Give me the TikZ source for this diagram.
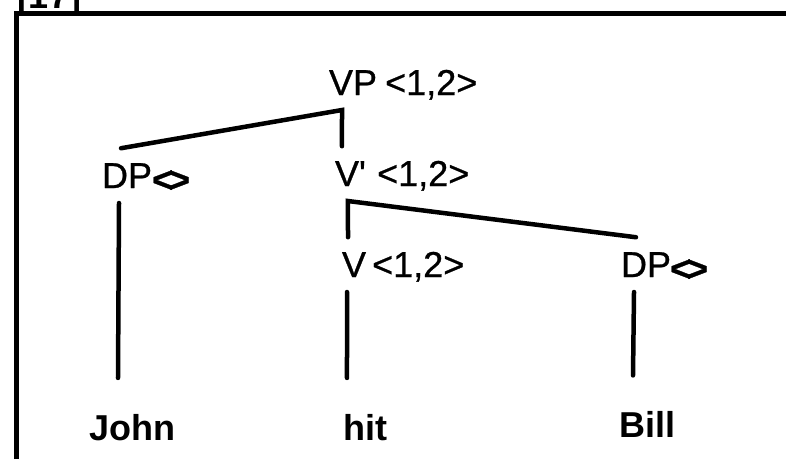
\documentclass[tikz,border=0pt]{standalone}
\usepackage{fontspec}
\setmainfont{Liberation Sans}
\newfontfamily\labelfont[FakeBold=0.8]{Liberation Sans}
\begin{document}
\begin{tikzpicture}[x=1pt,y=-1pt,
  cat/.style={font=\labelfont\fontsize{36}{40}\selectfont, inner sep=0pt,
    outer xsep=0pt, outer ysep=15pt, anchor=base west},
  feat/.style={font=\labelfont\fontsize{36}{40}\selectfont, inner sep=0pt, anchor=base west},
  word/.style={font=\bfseries\fontsize{36}{40}\selectfont, inner sep=0pt,
    outer xsep=0pt, outer ysep=36pt, anchor=base west},
  branch/.style={line width=4.5pt, line cap=round, line join=miter},
  frameline/.style={line width=5pt, line join=miter}]
\useasboundingbox (0,0) rectangle (786,459);
\fill[white] (0,0) rectangle (786,459);

% example number, cut by the top edge
\begin{scope}
  \clip (0,0) rectangle (786,10);
  \node[word, outer ysep=0pt] (exnum) at (17,8) {[17]};
\end{scope}

% box around the example (top and left sides)
\draw[frameline] (16.5,459) -- (16.5,13.5) -- (786,13.5);

% category labels and their index features
\node[cat] (vp) at (329,95) {VP};
\node[feat] (vpf) at (385,95) {<1,2>};

\node[cat] (dpl) at (102,188) {DP};
\node[feat] (dplf) at (152,192) {\bfseries<\kern-0.12em>};

\node[cat] (vbar) at (335,186) {V\textquotesingle};
\node[feat] (vbarf) at (377,186) {<1,2>};

\node[cat] (v) at (342,277) {V};
\node[feat] (vf) at (372,277) {<1,2>};

\node[cat] (dpr) at (621,277) {DP};
\node[feat] (dprf) at (670,281) {\bfseries<\kern-0.12em>};

% terminal words
\node[word] (john) at (89,440) {John};
\node[word] (hit) at (343,440) {hit};
\node[word] (bill) at (619.5,437.5) {Bill};

% branches
\draw[branch] ([xshift=-6pt]dpl.north) -- ([xshift=-11pt]vp.south)
  -- ([xshift=-8.5pt]vbar.north);
\draw[branch] ([xshift=-10pt]dpr.north) -- ([xshift=-2.5pt]vbar.south)
  -- ([xshift=-6pt]v.north);
\draw[branch] ([xshift=-8pt]dpl.south) -- ([xshift=-14pt]john.north);
\draw[branch] ([xshift=-7pt]v.south) -- ([xshift=-18pt]hit.north);
\draw[branch] ([xshift=-12pt]dpr.south) -- ([xshift=-14.5pt]bill.north);
\end{tikzpicture}
\end{document}
